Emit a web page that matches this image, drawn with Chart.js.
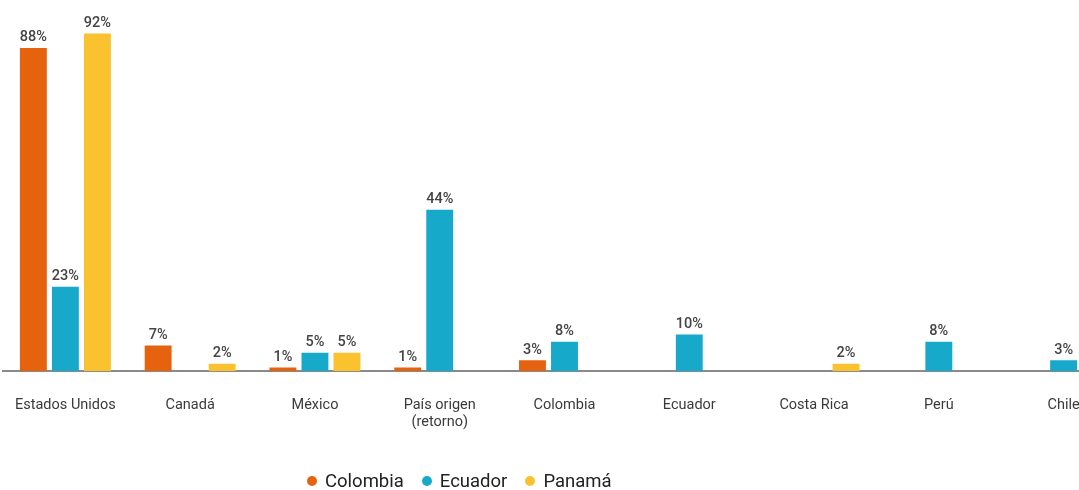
<!DOCTYPE html>
<html lang="es">
<head>
<meta charset="UTF-8">
<title>Destinos</title>
<script src="https://cdn.jsdelivr.net/npm/chart.js"></script>
<style>
    body { margin: 0; background: #fff; overflow: hidden; width: 1079px; height: 490px; position: relative; font-family: Roboto, sans-serif; }
    #caja { position: absolute; left: 0; top: 0; width: 1126px; height: 490px; }
    #leyenda { position: absolute; top: 470px; left: 307px; display: flex; font-size: 18.5px; color: #222; }
    #leyenda span { display: flex; align-items: center; margin-right: 18px; }
    #leyenda i { display: inline-block; width: 10px; height: 10px; border-radius: 50%; margin-right: 8px; }
</style>
</head>
<body>
    <div id="caja"><canvas id="grafico"></canvas></div>
    <div id="leyenda"></div>

<script>
    const categorias = ['Estados Unidos', 'Canadá', 'México', ['País origen', '(retorno)'], 'Colombia', 'Ecuador', 'Costa Rica', 'Perú', 'Chile'];
    const series = ['Colombia', 'Ecuador', 'Panamá'];
    const colores = ['#E5620E', '#17A9CA', '#F9C22E'];
    const colombia = [88, 7, 1, 1, 3, null, null, null, null];
    const ecuador = [23, null, 5, 44, 8, 10, null, 8, 3];
    const panama = [92, 2, 5, null, null, null, 2, null, null];

    const valores = [colombia, ecuador, panama];

    // leyenda en html
    let htmlLeyenda = '';
    for (let i = 0; i < series.length; i++) {
        htmlLeyenda += `<span><i style="background:${colores[i]}"></i>${series[i]}</span>`;
    }
    document.getElementById('leyenda').innerHTML = htmlLeyenda;

    const etiquetas = {
        id: 'etiquetas',
        afterDatasetsDraw(chart) {
            const ctx = chart.ctx;
            ctx.save();
            ctx.font = '500 14.5px Roboto';
            ctx.fillStyle = '#444';
            ctx.textAlign = 'center';
            ctx.textBaseline = 'bottom';
            chart.data.datasets.forEach((ds, i) => {
                chart.getDatasetMeta(i).data.forEach((barra, j) => {
                    if (ds.data[j] == null) return;
                    ctx.fillText(ds.data[j] + '%', barra.x, barra.y - 3);
                });
            });
            ctx.restore();
        }
    };

    const ctx = document.getElementById('grafico');
    new Chart(ctx, {
        type: 'bar',
        data: {
            labels: categorias,
            datasets: series.map((nombre, i) => ({
                label: nombre,
                data: valores[i],
                backgroundColor: colores[i],
                categoryPercentage: 0.77,
                barPercentage: 0.84
            }))
        },
        options: {
            responsive: true,
            maintainAspectRatio: false,
            animation: false,
            layout: { padding: { left: 3, right: 0, top: 4, bottom: 34 } },
            scales: {
                y: { display: false, min: 0, max: 100 },
                x: {
                    grid: { display: false, drawTicks: false },
                    border: { color: '#8a8a8a', width: 2 },
                    afterFit: function (escala) {
                        // sin margen extra por las etiquetas de los extremos
                        escala.paddingLeft = 0;
                        escala.paddingRight = 0;
                    },
                    ticks: {
                        padding: 25,
                        color: '#3a3a3a',
                        font: { size: 14.5, family: 'Roboto' },
                        maxRotation: 0,
                        autoSkip: false
                    }
                }
            },
            plugins: {
                legend: { display: false },
                tooltip: { enabled: false }
            }
        },
        plugins: [etiquetas]
    });
</script>
</body>
</html>
